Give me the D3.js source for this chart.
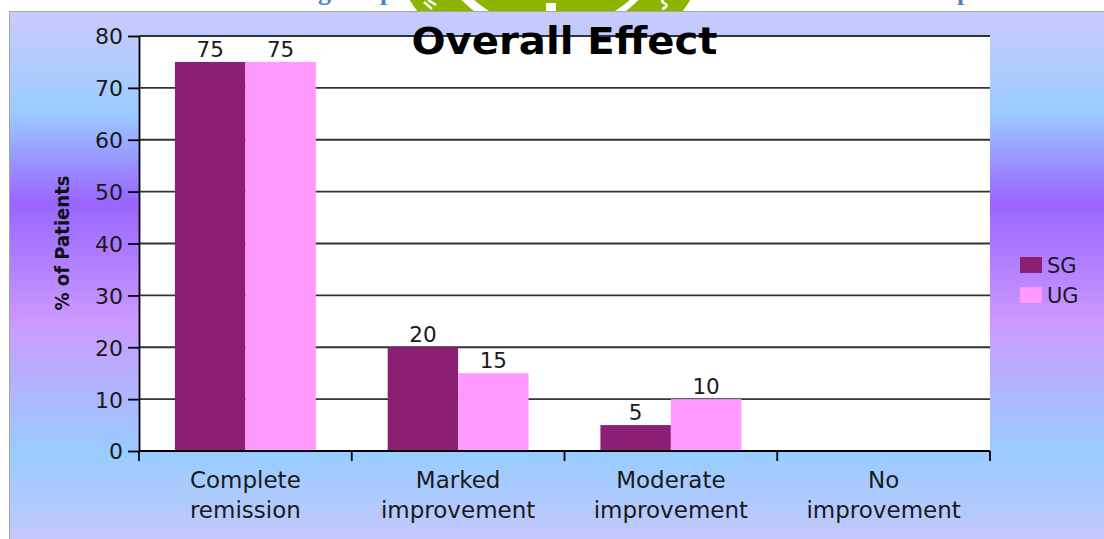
<!DOCTYPE html>
<html><head><meta charset="utf-8">
<script src="https://cdn.jsdelivr.net/npm/d3@7"></script>
<style>html,body{margin:0;padding:0;background:#fff;overflow:hidden}</style>
</head><body>
<svg id="c" width="1104" height="539"></svg>
<script>
const categories = [["Complete","remission"],["Marked","improvement"],["Moderate","improvement"],["No","improvement"]];
const seriesNames = ["SG","UG"];
const sgValues = [75,20,5,0];
const ugValues = [75,15,10,0];
const yTicks = [0,10,20,30,40,50,60,70,80];
const chartTitle = "Overall Effect";
const yTitle = "% of Patients";
const colors = {SG:"#8c1f74", UG:"#ff99ff"};

(function(){
const svg = d3.select("#c");
const FONT = "'DejaVu Sans', Verdana, sans-serif";
const defs = svg.append("defs");

// ---- top page fragment (cut-off heading + logo) ----
const header = svg.append("g");
const clip = defs.append("clipPath").attr("id","topclip");
clip.append("rect").attr("x",0).attr("y",0).attr("width",1104).attr("height",12);
const logo = header.append("g").attr("clip-path","url(#topclip)");
logo.append("circle").attr("cx",550).attr("cy",-87).attr("r",165).attr("fill","#8db500");
logo.append("circle").attr("cx",550).attr("cy",-87).attr("r",124).attr("fill","#fff");
logo.append("circle").attr("cx",552).attr("cy",-90).attr("r",119).attr("fill","#8db500");
logo.append("rect").attr("x",546).attr("y",3).attr("width",10).attr("height",10).attr("fill","#fff");
logo.append("path").attr("d","M424,2 L432,9 M428,0 L436,5").attr("stroke","#fff").attr("stroke-width",2.5).attr("fill","none");
logo.append("path").attr("d","M662,9 Q670,6 664,3 Q659,0 667,-2").attr("stroke","#fff").attr("stroke-width",2.5).attr("fill","none");
[["g",318],["p",380],["p",957]].forEach(([t,xp])=>{
  header.append("text").attr("x",xp).attr("y",0).attr("fill","#4f81bd")
    .attr("font-family","'Liberation Serif', serif").attr("font-weight","bold").attr("font-size",26).text(t);
});

// ---- chart frame with gradient ----
const grad = defs.append("linearGradient").attr("id","bg")
  .attr("x1",0).attr("y1",0).attr("x2",0).attr("y2",1);
[[0,"#c9cafc"],[0.06,"#bccafd"],[0.19,"#99ccff"],[0.36,"#9966ff"],[0.47,"#b07eff"],
 [0.585,"#cc99ff"],[0.70,"#b3b2ff"],[0.84,"#99ccff"],[1,"#c4c8fc"]].forEach(([o,c])=>{
  grad.append("stop").attr("offset",o).attr("stop-color",c);
});
svg.append("rect").attr("x",9.5).attr("y",11.5).attr("width",1100).attr("height",530)
  .attr("fill","url(#bg)").attr("stroke","#a6a6a6").attr("stroke-width",1);

// ---- scales ----
const x = d3.scaleBand().domain(d3.range(categories.length)).range([139,990]).padding(0);
const xs = d3.scaleBand().domain(seriesNames).range([0,x.bandwidth()]).paddingInner(0).paddingOuter(0.51);
const y = d3.scaleLinear().domain([0,80]).range([451,36]);

// plot area
svg.append("rect").attr("x",x.range()[0]).attr("y",y(80)).attr("width",x.range()[1]-x.range()[0])
  .attr("height",y(0)-y(80)).attr("fill","#fff");

// gridlines
svg.append("g").selectAll("line").data(yTicks.filter(d=>d>0)).join("line")
  .attr("x1",x.range()[0]).attr("x2",x.range()[1]).attr("y1",d=>y(d)).attr("y2",d=>y(d))
  .attr("stroke","#333").attr("stroke-width",1.8);

// bars
const data = categories.map((c,i)=>({i, SG:sgValues[i], UG:ugValues[i]}));
const groups = svg.append("g").selectAll("g").data(data).join("g")
  .attr("transform",d=>`translate(${x(d.i)},0)`);
groups.selectAll("rect").data(d=>seriesNames.map(s=>({s,v:d[s]}))).join("rect")
  .attr("x",d=>xs(d.s)).attr("width",xs.bandwidth())
  .attr("y",d=>y(d.v)).attr("height",d=>y(0)-y(d.v)).attr("fill",d=>colors[d.s]);
groups.selectAll("text").data(d=>seriesNames.map(s=>({s,v:d[s]})).filter(e=>e.v>0)).join("text")
  .attr("x",d=>xs(d.s)+xs.bandwidth()/2).attr("y",d=>y(d.v)-5)
  .attr("text-anchor","middle").attr("font-family",FONT).attr("font-size",21.5).attr("fill","#1a1a1a")
  .text(d=>d.v);

// y axis
const ya = svg.append("g").attr("transform",`translate(${x.range()[0]},0)`)
  .call(d3.axisLeft(y).tickValues(yTicks).tickSize(11).tickSizeOuter(0).tickPadding(5));
ya.select(".domain").attr("stroke","#000").attr("stroke-width",1.8);
ya.selectAll(".tick line").attr("stroke","#000").attr("stroke-width",1.8);
ya.selectAll(".tick text").attr("font-family",FONT).attr("font-size",22).attr("fill","#1a1a1a").attr("dy","0.36em");

// x axis
svg.append("line").attr("x1",x.range()[0]).attr("x2",x.range()[1]).attr("y1",y(0)).attr("y2",y(0))
  .attr("stroke","#000").attr("stroke-width",1.8);
const bounds = x.domain().map(i=>x(i)).concat([x.range()[1]]);
svg.append("g").selectAll("line").data(bounds).join("line")
  .attr("x1",d=>d).attr("x2",d=>d).attr("y1",y(0)).attr("y2",y(0)+10)
  .attr("stroke","#000").attr("stroke-width",1.8);
const cl = svg.append("g").selectAll("text").data(categories).join("text")
  .attr("text-anchor","middle").attr("font-family",FONT).attr("font-size",23).attr("fill","#1a1a1a");
cl.each(function(d,i){
  const t = d3.select(this);
  d.forEach((line,k)=>{
    t.append("tspan").attr("x",x(i)+x.bandwidth()/2).attr("y",488+k*29.5).text(line);
  });
});

// title
svg.append("text").attr("x",(x.range()[0]+x.range()[1])/2).attr("y",54).attr("text-anchor","middle")
  .attr("font-family",FONT).attr("font-weight","bold").attr("font-size",37).attr("fill","#000")
  .attr("textLength",306).attr("lengthAdjust","spacingAndGlyphs")
  .text(chartTitle);

// y title
svg.append("text").attr("transform","translate(69,243) rotate(-90)").attr("text-anchor","middle")
  .attr("font-family",FONT).attr("font-weight","bold").attr("font-size",20).attr("fill","#111")
  .attr("textLength",135).attr("lengthAdjust","spacingAndGlyphs").text(yTitle);

// legend
const lg = svg.append("g").selectAll("g").data(seriesNames).join("g")
  .attr("transform",(d,i)=>`translate(1020,${257+i*30})`);
lg.append("rect").attr("width",22).attr("height",16).attr("fill",d=>colors[d]);
lg.append("text").attr("x",27).attr("y",15.5).attr("font-family",FONT).attr("font-size",21)
  .attr("fill","#1a1a1a").text(d=>d);
})();
</script>
</body></html>
